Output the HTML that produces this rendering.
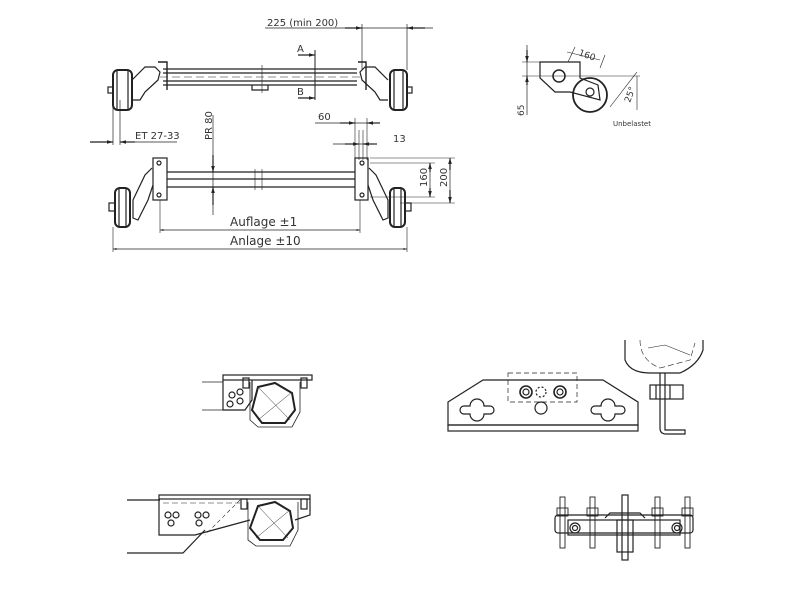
<!DOCTYPE html>
<html><head><style>
html,body{margin:0;padding:0;background:#fff;}
svg{display:block}
text{font-family:"DejaVu Sans","Liberation Sans",sans-serif;fill:#333}
</style></head><body>
<svg width="800" height="599" viewBox="0 0 800 599" xmlns="http://www.w3.org/2000/svg">
<defs>
<marker id="ar" viewBox="0 0 10 10" refX="10" refY="5" markerWidth="7" markerHeight="5" orient="auto-start-reverse"><path d="M0,2 L10,5 L0,8z" fill="#222"/></marker>
</defs>
<g fill="none" stroke="#222" stroke-width="1.2">
<!-- TOP AXLE -->
<line x1="163" y1="69" x2="357" y2="69"/><line x1="163" y1="73" x2="357" y2="73"/>
<line x1="163" y1="81" x2="357" y2="81"/><line x1="163" y1="85" x2="357" y2="85"/>
<line x1="160" y1="77" x2="360" y2="77" stroke-dasharray="8,4" stroke-width="0.6"/>
<path d="M158 62 L167 62 L167 90 M358 62 L366 62 L366 90" stroke-width="1.4"/>
<path d="M132 80 L145 67 L155 67 L160 72 L158 80 L145 92 L140 100 L132 100" />
<path d="M388 80 L375 67 L365 67 L360 72 L362 80 L375 92 L380 100 L388 100"/>
<rect x="113" y="70" width="19" height="40" rx="5" stroke-width="2"/>
<line x1="117" y1="70" x2="117" y2="110"/><line x1="128" y1="70" x2="128" y2="110"/>
<rect x="108" y="87" width="5" height="6"/>
<rect x="390" y="70" width="17" height="40" rx="5" stroke-width="2"/>
<line x1="394" y1="70" x2="394" y2="110"/><line x1="403" y1="70" x2="403" y2="110"/>
<rect x="407" y="87" width="5" height="6"/>
<path d="M252 85 L252 90 L268 90 L268 85"/><line x1="262" y1="65" x2="262" y2="93" stroke-width="0.6"/>
<!-- dims top -->
<line x1="265" y1="28" x2="433" y2="28" stroke-width="0.7"/>
<line x1="345" y1="28" x2="362" y2="28" marker-end="url(#ar)"/>
<line x1="425" y1="28" x2="407" y2="28" marker-end="url(#ar)"/>
<line x1="362" y1="24" x2="362" y2="70" stroke-width="0.7"/><line x1="407" y1="24" x2="407" y2="70" stroke-width="0.7"/>
<line x1="315" y1="50" x2="315" y2="100" stroke-width="1"/>
<line x1="298" y1="55" x2="315" y2="55" marker-end="url(#ar)"/>
<line x1="298" y1="98" x2="315" y2="98" marker-end="url(#ar)"/>
<!-- ET -->
<line x1="113" y1="100" x2="113" y2="145" stroke-width="0.7"/><line x1="120" y1="100" x2="120" y2="145" stroke-width="0.7"/>
<line x1="90" y1="142" x2="113" y2="142" marker-end="url(#ar)"/>
<line x1="135" y1="142" x2="120" y2="142" marker-end="url(#ar)"/>
<line x1="135" y1="142" x2="177" y2="142" stroke-width="0.7"/>
<!-- PR80 -->
<line x1="213" y1="115" x2="213" y2="215" stroke-width="0.7"/>
<line x1="213" y1="155" x2="213" y2="172" marker-end="url(#ar)"/>
<line x1="213" y1="205" x2="213" y2="187" marker-end="url(#ar)"/>
<!-- 60/13 -->
<line x1="315" y1="123" x2="380" y2="123" stroke-width="0.7"/>
<line x1="340" y1="123" x2="355" y2="123" marker-end="url(#ar)"/>
<line x1="380" y1="123" x2="367" y2="123" marker-end="url(#ar)"/>
<line x1="333" y1="144" x2="377" y2="144" stroke-width="0.7"/>
<line x1="345" y1="144" x2="359" y2="144" marker-end="url(#ar)"/>
<line x1="377" y1="144" x2="363" y2="144" marker-end="url(#ar)"/>
<line x1="355" y1="118" x2="355" y2="160" stroke-width="0.6"/><line x1="359" y1="130" x2="359" y2="160" stroke-width="0.6"/>
<line x1="363" y1="130" x2="363" y2="160" stroke-width="0.6"/><line x1="367" y1="118" x2="367" y2="160" stroke-width="0.6"/>
<!-- BOTTOM AXLE -->
<line x1="167" y1="172" x2="355" y2="172"/><line x1="167" y1="179" x2="355" y2="179"/><line x1="167" y1="187" x2="355" y2="187"/>
<line x1="255" y1="169" x2="255" y2="190" stroke-width="0.6"/><line x1="262" y1="169" x2="262" y2="190" stroke-width="0.6"/>
<rect x="153" y="158" width="14" height="42"/><rect x="355" y="158" width="13" height="42"/>
<circle cx="159" cy="163" r="2"/><circle cx="159" cy="195" r="2"/><circle cx="362" cy="163" r="2"/><circle cx="362" cy="195" r="2"/>
<path d="M152 168 L145 175 L133 200 L133 218 L138 220 L148 200 L153 185"/>
<path d="M369 168 L376 175 L388 200 L388 218 L383 220 L373 200 L368 185"/>
<rect x="115" y="188" width="15" height="39" rx="5" stroke-width="2"/>
<line x1="119" y1="188" x2="119" y2="227"/><line x1="126" y1="188" x2="126" y2="227"/>
<rect x="109" y="203" width="6" height="8"/>
<rect x="390" y="188" width="15" height="39" rx="5" stroke-width="2"/>
<line x1="394" y1="188" x2="394" y2="227"/><line x1="401" y1="188" x2="401" y2="227"/>
<rect x="405" y="203" width="6" height="8"/>
<!-- 160/200 -->
<line x1="370" y1="163" x2="435" y2="163" stroke-width="0.6"/><line x1="370" y1="197" x2="435" y2="197" stroke-width="0.6"/>
<line x1="370" y1="158" x2="455" y2="158" stroke-width="0.6"/><line x1="400" y1="203" x2="455" y2="203" stroke-width="0.6"/>
<line x1="430" y1="172" x2="430" y2="163" marker-end="url(#ar)"/><line x1="430" y1="188" x2="430" y2="197" marker-end="url(#ar)"/>
<line x1="430" y1="163" x2="430" y2="197" stroke-width="0.7"/>
<line x1="450" y1="158" x2="450" y2="203" stroke-width="0.7"/>
<line x1="450" y1="170" x2="450" y2="158" marker-end="url(#ar)"/><line x1="450" y1="190" x2="450" y2="203" marker-end="url(#ar)"/>
<!-- Auflage/Anlage -->
<line x1="160" y1="200" x2="160" y2="233" stroke-width="0.6"/><line x1="360" y1="200" x2="360" y2="233" stroke-width="0.6"/>
<line x1="113" y1="227" x2="113" y2="252" stroke-width="0.6"/><line x1="407" y1="227" x2="407" y2="252" stroke-width="0.6"/>
<line x1="160" y1="230" x2="360" y2="230" stroke-width="0.7" marker-start="url(#ar)" marker-end="url(#ar)"/>
<line x1="113" y1="249" x2="407" y2="249" stroke-width="0.7" marker-start="url(#ar)" marker-end="url(#ar)"/>
<!-- TOP RIGHT DETAIL -->
<line x1="527" y1="45" x2="527" y2="115" stroke-width="0.7"/>
<line x1="527" y1="50" x2="527" y2="62" marker-end="url(#ar)"/>
<line x1="527" y1="85" x2="527" y2="76" marker-end="url(#ar)"/>
<line x1="522" y1="62" x2="545" y2="62" stroke-width="0.6"/><line x1="522" y1="76" x2="640" y2="76" stroke-width="0.6"/>
<path d="M540 62 L580 62 L580 78 L598 85 L600 100 L570 92 L555 92 L540 78 Z"/>
<circle cx="559" cy="76" r="6" stroke-width="1.5"/>
<circle cx="590" cy="95" r="17" stroke-width="1.8"/><circle cx="590" cy="92" r="4"/>
<line x1="567" y1="52" x2="600" y2="60" stroke-width="0.6"/>
<line x1="568" y1="62" x2="575" y2="47" stroke-width="0.6"/><line x1="600" y1="68" x2="605" y2="55" stroke-width="0.6"/>
<line x1="610" y1="107" x2="637" y2="72" stroke-width="0.6"/><line x1="637" y1="76" x2="637" y2="110" stroke-width="0.6"/>
<!-- BRACKET 1 -->
<rect x="223" y="375" width="89" height="5"/>
<path d="M202 382 L223 382 M202 410 L223 410" stroke-width="0.8"/>
<path d="M223 380 L223 410 L245 410 L252 400 L252 380"/>
<path d="M258 387 L275 383 L292 393 L295 410 L285 423 L262 423 L252 410 Z" stroke-width="2"/>
<path d="M258 387 L290 420 M292 392 L258 420" stroke-width="0.5"/>
<path d="M250 382 L250 420 L258 427 L292 427 L300 412 L300 382" stroke-width="0.8"/>
<circle cx="232" cy="395" r="3"/><circle cx="240" cy="392" r="3"/><circle cx="230" cy="404" r="3"/><circle cx="240" cy="401" r="3"/>
<rect x="243" y="378" width="6" height="10"/><rect x="301" y="378" width="6" height="10"/>
<!-- BRACKET 2 -->
<path d="M127 500 L160 500 M127 553 L183 553 L205 530"/>
<rect x="159" y="495" width="151" height="4"/>
<path d="M159 499 L159 535 L195 535 L250 520 M310 499 L310 515 L295 520"/>
<path d="M240 500 L205 535" stroke-dasharray="4,3" stroke-width="0.6"/>
<path d="M163 503 L240 503" stroke-dasharray="6,3" stroke-width="0.6"/>
<path d="M258 506 L275 502 L290 511 L293 528 L283 540 L260 540 L250 528 Z" stroke-width="2"/>
<path d="M258 506 L288 538 M290 510 L256 538" stroke-width="0.5"/>
<path d="M248 502 L248 540 L256 546 L290 546 L298 530 L298 502" stroke-width="0.8"/>
<circle cx="168" cy="515" r="3"/><circle cx="176" cy="515" r="3"/><circle cx="171" cy="523" r="3"/>
<circle cx="198" cy="515" r="3"/><circle cx="206" cy="515" r="3"/><circle cx="199" cy="523" r="3"/>
<rect x="241" y="499" width="6" height="10"/><rect x="301" y="499" width="6" height="10"/>
<!-- PLATE -->
<path d="M448 402 L483 380 L603 380 L638 402 L638 425 L448 425 Z"/>
<rect x="448" y="425" width="190" height="6"/>
<rect x="508" y="373" width="69" height="29" stroke-dasharray="5,3" stroke-width="0.7"/>
<circle cx="526" cy="392" r="6" stroke-width="1.6"/><circle cx="526" cy="392" r="3"/>
<circle cx="560" cy="392" r="6" stroke-width="1.6"/><circle cx="560" cy="392" r="3"/>
<circle cx="541" cy="392" r="5" stroke-dasharray="2,2"/><circle cx="541" cy="408" r="6"/>
<path d="M464 406 L470 406 A7 7 0 1 1 484 406 L490 406 A4 4 0 1 1 490 414 L484 414 A7 7 0 1 1 470 414 L464 414 A4 4 0 1 1 464 406Z"/>
<path d="M595 406 L601 406 A7 7 0 1 1 615 406 L621 406 A4 4 0 1 1 621 414 L615 414 A7 7 0 1 1 601 414 L595 414 A4 4 0 1 1 595 406Z"/>
<!-- nut detail -->
<path d="M625 340 L625 360 Q630 373 650 373 L680 373 Q698 365 703 350 L703 340"/>
<path d="M640 340 Q640 360 660 368 L690 360 L695 343" stroke-dasharray="6,3" stroke-width="0.6"/>
<path d="M648 348 L665 345 L690 355" stroke-width="0.6"/>
<path d="M660 373 L660 428 Q660 434 666 434 L685 434 L685 430 L665 430 L665 373"/>
<rect x="650" y="385" width="33" height="14"/><line x1="656" y1="385" x2="656" y2="399"/><line x1="670" y1="385" x2="670" y2="399"/>
<!-- CLAMP -->
<rect x="555" y="515" width="138" height="18" rx="3"/>
<rect x="568" y="520" width="112" height="15"/>
<circle cx="575" cy="528" r="5"/><circle cx="575" cy="528" r="2.5"/>
<circle cx="677" cy="528" r="5"/><circle cx="677" cy="528" r="2.5"/>
<g stroke-width="0.9">
<rect x="560" y="497" width="5" height="51"/><rect x="590" y="497" width="5" height="51"/>
<rect x="655" y="497" width="5" height="51"/><rect x="685" y="497" width="5" height="51"/>
<rect x="557" y="508" width="11" height="8"/><rect x="587" y="508" width="11" height="8"/>
<rect x="652" y="508" width="11" height="8"/><rect x="682" y="508" width="11" height="8"/>
</g>
<rect x="622" y="495" width="6" height="65"/><rect x="617" y="520" width="16" height="32"/>
<path d="M605 518 L610 513 L640 513 L645 518"/>
</g>
<!-- TEXT -->
<g font-size="10">
<text x="267" y="26">225 (min 200)</text>
<text x="297" y="52" font-size="10">A</text>
<text x="297" y="95" font-size="10">B</text>
<text x="135" y="139">ET 27-33</text>
<text x="318" y="120">60</text>
<text x="393" y="142">13</text>
<text transform="translate(212,140) rotate(-90)">PR 80</text>
<text transform="translate(427,187) rotate(-90)">160</text>
<text transform="translate(447,187) rotate(-90)">200</text>
<text x="230" y="226" font-size="12">Auflage ±1</text>
<text x="230" y="245" font-size="12">Anlage ±10</text>
<text transform="translate(524,116) rotate(-90)" font-size="9">65</text>
<text transform="translate(578,55) rotate(20)" font-size="9">160</text>
<text transform="translate(630,103) rotate(-70)" font-size="9">25°</text>
<text x="613" y="126" font-size="7">Unbelastet</text>
</g>
</svg>
</body></html>
